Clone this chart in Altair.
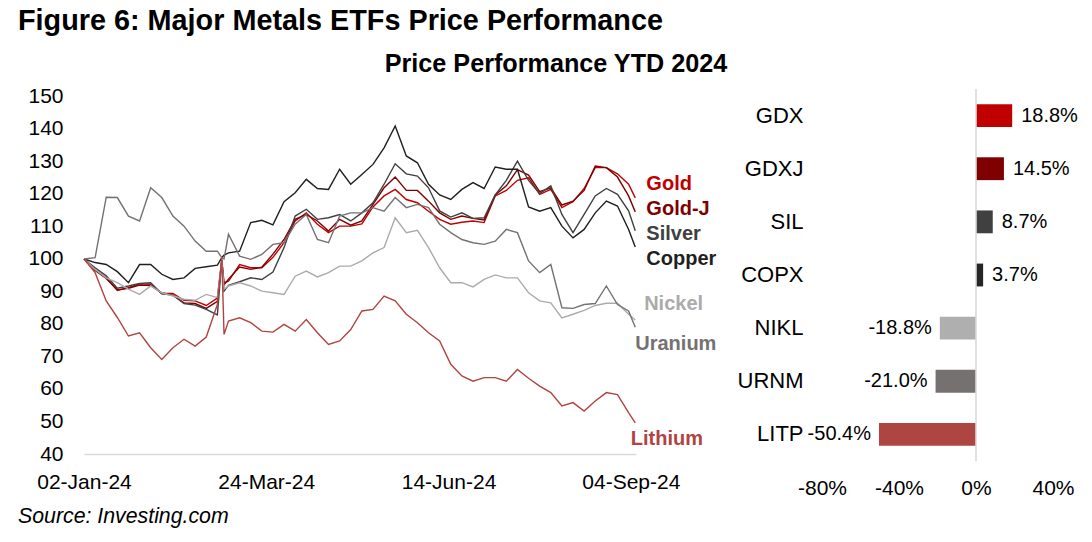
import altair as alt
import pandas as pd

# ---------------- data ----------------
dates = [
    "2024-01-02", "2024-01-07", "2024-01-12", "2024-01-17", "2024-01-22", "2024-01-27",
    "2024-02-01", "2024-02-06", "2024-02-11", "2024-02-16", "2024-02-21", "2024-02-26",
    "2024-03-02", "2024-03-04", "2024-03-05", "2024-03-07", "2024-03-12", "2024-03-17",
    "2024-03-22", "2024-03-27", "2024-04-01", "2024-04-06", "2024-04-11", "2024-04-16",
    "2024-04-21", "2024-04-26", "2024-05-01", "2024-05-06", "2024-05-11", "2024-05-16",
    "2024-05-21", "2024-05-26", "2024-05-31", "2024-06-05", "2024-06-10", "2024-06-15",
    "2024-06-20", "2024-06-25", "2024-06-30", "2024-07-05", "2024-07-10", "2024-07-15",
    "2024-07-20", "2024-07-25", "2024-07-30", "2024-08-04", "2024-08-09", "2024-08-14",
    "2024-08-19", "2024-08-24", "2024-08-29", "2024-09-03", "2024-09-06",
]

gold = [100, 96.8, 94.2, 90.3, 91.2, 92.4, 92.2, 89.4, 89.4, 87.3, 87.1, 85.7, 88.0,
        99.6, 92.7, 93.2, 98.3, 97.3, 97.3, 100.5, 105.0, 111.7, 114.2, 110.7, 108.1,
        110.1, 110.1, 110.8, 116.0, 119.4, 121.4, 118.3, 117.3, 114.7, 112.2, 110.7,
        111.3, 111.7, 111.2, 119.4, 121.1, 124.2, 125.0, 119.9, 121.4, 115.8, 117.6,
        121.7, 128.1, 128.1, 126.2, 123.0, 118.8]
gold_j = [100, 96.5, 94.0, 90.5, 91.0, 92.0, 91.8, 89.6, 88.8, 86.5, 86.3, 84.8, 87.0,
          99.6, 92.0, 93.8, 97.5, 96.8, 97.5, 101.5, 106.0, 112.2, 113.7, 111.7, 108.6,
          112.2, 110.4, 111.7, 116.8, 121.9, 125.2, 121.1, 121.1, 117.8, 114.2, 112.2,
          113.2, 112.5, 112.0, 119.7, 122.5, 127.5, 125.8, 120.7, 121.9, 116.6, 117.8,
          121.1, 128.6, 128.1, 125.2, 119.4, 114.5]
silver = [100, 97.3, 94.8, 91.0, 91.7, 92.5, 92.7, 89.3, 88.9, 86.3, 85.8, 84.5, 82.8,
          99.6, 90.1, 91.9, 93.0, 94.2, 93.7, 96.0, 103.5, 113.2, 115.3, 112.2, 112.7,
          113.7, 111.7, 114.2, 117.3, 123.0, 129.3, 126.2, 125.5, 121.9, 114.8, 112.9,
          114.2, 112.5, 112.7, 119.7, 124.2, 130.1, 124.2, 120.1, 122.5, 113.7, 108.1,
          113.7, 119.4, 121.7, 119.9, 114.8, 108.7]
copper = [100, 98.9, 98.3, 96.1, 92.7, 98.3, 98.3, 95.3, 93.7, 94.2, 97.1, 97.6, 98.1,
          100.4, 101.2, 101.9, 102.4, 111.2, 111.9, 110.5, 117.6, 120.4, 124.5, 121.7, 121.4,
          127.6, 123.0, 126.0, 129.1, 134.2, 140.9, 131.7, 129.6, 123.0, 119.7, 118.3,
          121.4, 123.5, 121.7, 128.3, 127.6, 127.6, 116.0, 114.7, 115.8, 110.1, 106.5,
          109.1, 114.2, 117.8, 116.3, 109.1, 103.7]
nickel = [100, 96.8, 94.2, 92.7, 90.7, 89.1, 91.7, 89.6, 88.6, 87.6, 87.3, 89.1, 88.1,
          99.6, 90.7, 91.7, 92.7, 91.7, 90.1, 89.6, 89.1, 94.7, 96.3, 94.5, 95.8,
          97.8, 97.8, 99.4, 101.9, 103.5, 112.7, 108.1, 108.8, 103.5, 97.3, 92.7,
          92.7, 91.4, 93.7, 95.1, 94.2, 94.2, 89.6, 87.1, 86.5, 81.9, 83.0,
          84.2, 85.7, 86.4, 86.4, 83.0, 81.2]
uranium = [100, 100.4, 119.0, 118.9, 113.2, 111.7, 121.9, 118.9, 113.2, 110.1, 105.5, 102.4, 102.4,
           100.4, 100.0, 107.6, 100.9, 99.9, 101.4, 104.5, 105.0, 110.7, 113.7, 106.0, 105.0,
           113.2, 114.2, 114.2, 115.8, 114.7, 118.9, 115.8, 116.8, 115.8, 110.7, 108.1,
           106.0, 105.0, 104.5, 105.5, 109.1, 108.1, 99.4, 95.8, 98.3, 85.0, 84.8,
           86.0, 86.3, 91.7, 86.0, 84.0, 79.0]
lithium = [100, 95.8, 87.1, 82.0, 76.3, 77.3, 72.7, 69.1, 72.7, 75.3, 73.2, 76.0, 86.0,
           100.4, 76.8, 80.9, 81.9, 80.4, 77.8, 77.5, 79.9, 77.8, 81.4, 77.3, 73.7,
           74.8, 78.3, 84.0, 84.5, 88.6, 87.1, 83.0, 80.4, 77.3, 74.8, 67.6,
           64.0, 62.4, 63.5, 63.5, 62.4, 66.0, 63.3, 60.9, 58.9, 54.8, 55.8,
           53.2, 56.3, 58.9, 58.3, 52.7, 49.6]

series_names = ["Gold", "Gold-J", "Silver", "Copper", "Nickel", "Uranium", "Lithium"]
series_colors = ["#C00000", "#7F0000", "#404040", "#1F1F1F", "#ABABAB", "#767171", "#B0443F"]
series_values = [gold, gold_j, silver, copper, nickel, uranium, lithium]

# end-of-line labels (position in data space)
label_dates = ["2024-09-11", "2024-09-11", "2024-09-11", "2024-09-11", "2024-09-10", "2024-09-06", "2024-09-04"]
label_values = [123.1, 115.4, 107.7, 100.0, 86.2, 73.8, 44.6]

y_ticks = [40, 50, 60, 70, 80, 90, 100, 110, 120, 130, 140, 150]

tickers = ["GDX", "GDXJ", "SIL", "COPX", "NIKL", "URNM", "LITP"]
perf = [18.8, 14.5, 8.7, 3.7, -18.8, -21.0, -50.4]
bar_colors = ["#C00000", "#7F0000", "#404040", "#262626", "#AFAFAF", "#767171", "#AD4541"]
perf_ticks = [-80, -40, 0, 40]

title_text = "Figure 6: Major Metals ETFs Price Performance"
subtitle_text = "Price Performance YTD 2024"
source_text = "Source: Investing.com"

FONT = "Liberation Sans"

# ---------------- tables ----------------
rows = []
for name, vals in zip(series_names, series_values):
    assert len(vals) == len(dates), name
    for d, v in zip(dates, vals):
        rows.append({"date": d, "series": name, "value": v})
line_df = pd.DataFrame(rows)
lab_df = pd.DataFrame({"date": label_dates, "series": series_names, "value": label_values})

bar_df = pd.DataFrame({
    "ticker": tickers,
    "perf": perf,
    "color": bar_colors,
    "label": [f"{v:.1f}%" for v in perf],
})

# ---------------- line chart ----------------
color_scale = alt.Scale(domain=series_names, range=series_colors)
x_scale = alt.Scale(
    type="utc",
    domain=[alt.DateTime(year=2024, month=1, date=2, utc=True),
            alt.DateTime(year=2024, month=9, date=6, hours=8, utc=True)],
)
y_scale = alt.Scale(domain=[40, 152.3], nice=False, zero=False)

x_axis = alt.Axis(
    title=None,
    values=[alt.DateTime(year=2024, month=1, date=2, utc=True),
            alt.DateTime(year=2024, month=3, date=24, utc=True),
            alt.DateTime(year=2024, month=6, date=14, utc=True),
            alt.DateTime(year=2024, month=9, date=4, utc=True)],
    labelExpr="utcFormat(datum.value, '%d-%b-%y')",
    grid=False, ticks=False, tickSize=0,
    domain=True, domainColor="#D9D9D9", domainWidth=1.3,
    labelFontSize=21, labelPadding=17, labelColor="#000000",
    labelFont=FONT, labelFlush=False, labelOverlap=False,
)
y_axis = alt.Axis(
    title=None, values=y_ticks, grid=False, ticks=False, tickSize=0, domain=False,
    labelFontSize=21, labelPadding=21, labelColor="#000000", labelFont=FONT,
    labelOverlap=False, labelFlush=False,
)

lines = alt.Chart(line_df).mark_line(strokeWidth=1.4).encode(
    x=alt.X("date:T", scale=x_scale, axis=x_axis),
    y=alt.Y("value:Q", scale=y_scale, axis=y_axis),
    color=alt.Color("series:N", scale=color_scale, legend=None),
    detail="series:N",
)

end_labels = alt.Chart(lab_df).mark_text(
    align="left", baseline="middle", fontSize=20, fontWeight="bold", font=FONT
).encode(
    x=alt.X("date:T", scale=x_scale, axis=x_axis),
    y=alt.Y("value:Q", scale=y_scale, axis=y_axis),
    text="series:N",
    color=alt.Color("series:N", scale=color_scale, legend=None),
)

title_mark = alt.Chart(pd.DataFrame({"t": [title_text]})).mark_text(
    align="left", baseline="alphabetic", fontSize=28.8, fontWeight="bold", font=FONT, color="#000000"
).encode(text="t:N", x=alt.value(-66), y=alt.value(-59))

subtitle_mark = alt.Chart(pd.DataFrame({"t": [subtitle_text]})).mark_text(
    align="center", baseline="alphabetic", fontSize=25.2, fontWeight="bold", font=FONT, color="#000000"
).encode(text="t:N", x=alt.value(472), y=alt.value(-17))

source_mark = alt.Chart(pd.DataFrame({"t": [source_text]})).mark_text(
    align="left", baseline="alphabetic", fontSize=21.3, fontStyle="italic", font=FONT, color="#000000"
).encode(text="t:N", x=alt.value(-66), y=alt.value(434))

line_chart = alt.layer(lines, end_labels, title_mark, subtitle_mark, source_mark).properties(
    width=552, height=365
)

# ---------------- bar chart ----------------
bx_scale = alt.Scale(domain=[-80, 40], nice=False, zero=False)
bx_axis = alt.Axis(
    title=None, values=perf_ticks, labelExpr="datum.value + '%'",
    grid=False, ticks=False, tickSize=0, domain=False,
    labelFontSize=21, labelPadding=16, labelColor="#000000", labelFont=FONT,
    labelFlush=False, labelOverlap=False,
)
by_scale = alt.Scale(paddingInner=0.57, paddingOuter=0.285)
by_axis = alt.Axis(
    title=None, grid=False, ticks=False, tickSize=0, domain=False,
    labelFontSize=22, labelPadding=19, labelColor="#000000", labelFont=FONT,
)


def bx(field):
    return alt.X(field, scale=bx_scale, axis=bx_axis)


def by():
    return alt.Y("ticker:N", sort=tickers, scale=by_scale, axis=by_axis)


bars = alt.Chart(bar_df).mark_bar().encode(
    x=bx("perf:Q"), y=by(), color=alt.Color("color:N", scale=None)
)
zero_rule = alt.Chart(pd.DataFrame({"perf": [0]})).mark_rule(color="#D9D9D9", strokeWidth=1.6).encode(
    x=bx("perf:Q")
)
pos_text = alt.Chart(bar_df).transform_filter("datum.perf >= 0").mark_text(
    align="left", baseline="middle", dx=9, fontSize=20, font=FONT, color="#000000"
).encode(x=bx("perf:Q"), y=by(), text="label:N")
neg_text = alt.Chart(bar_df).transform_filter("datum.perf < 0").mark_text(
    align="right", baseline="middle", dx=-8, fontSize=20, font=FONT, color="#000000"
).encode(x=bx("perf:Q"), y=by(), text="label:N")

bar_chart = alt.layer(bars, zero_rule, pos_text, neg_text).properties(width=231, height=372)

chart = alt.hconcat(line_chart, bar_chart, spacing=186, bounds="flush").properties(
    padding={"left": 18, "top": 7, "right": 5, "bottom": 5},
    background="#FFFFFF",
).configure(font=FONT).configure_view(stroke="transparent", strokeWidth=0)

chart.save("out.html", embed_options={"renderer": "svg", "actions": False})
